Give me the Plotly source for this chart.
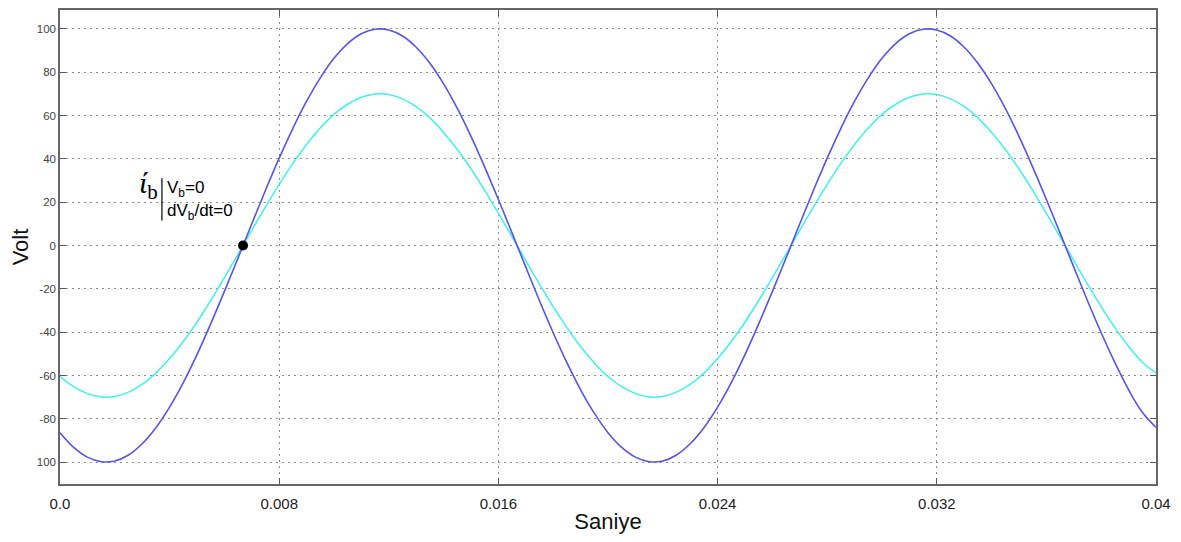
import plotly.graph_objects as go

# time axis (s), read at 0.5 ms steps
t = [i / 2000 for i in range(81)]

# blue trace (voltage, amplitude ~100)
v_blue = [-86.4, -93.2, -97.7, -99.8, -99.5, -96.7, -91.5, -84.1, -74.6, -63.3,
          -50.4, -36.2, -21.2, -5.7, 10.0, 25.5, 40.3, 54.1, 66.6, 77.4,
          86.4, 93.2, 97.7, 99.8, 99.5, 96.7, 91.5, 84.1, 74.6, 63.3,
          50.4, 36.2, 21.2, 5.7, -10.0, -25.5, -40.3, -54.1, -66.6, -77.4,
          -86.4, -93.2, -97.7, -99.8, -99.5, -96.7, -91.5, -84.1, -74.6, -63.3,
          -50.4, -36.2, -21.2, -5.7, 10.0, 25.5, 40.3, 54.1, 66.6, 77.4,
          86.4, 93.2, 97.7, 99.8, 99.5, 96.7, 91.5, 84.1, 74.6, 63.3,
          50.4, 36.2, 21.2, 5.7, -10.0, -25.5, -40.3, -54.1, -66.6, -77.0,
          -84.0]

# cyan trace (current, amplitude ~70)
v_cyan = [-60.5, -65.2, -68.4, -69.9, -69.7, -67.7, -64.1, -58.9, -52.2, -44.3,
          -35.3, -25.4, -14.8, -4.0, 7.0, 17.8, 28.2, 37.9, 46.6, 54.2,
          60.5, 65.2, 68.4, 69.9, 69.7, 67.7, 64.1, 58.9, 52.2, 44.3,
          35.3, 25.4, 14.8, 4.0, -7.0, -17.8, -28.2, -37.9, -46.6, -54.2,
          -60.5, -65.2, -68.4, -69.9, -69.7, -67.7, -64.1, -58.9, -52.2, -44.3,
          -35.3, -25.4, -14.8, -4.0, 7.0, 17.8, 28.2, 37.9, 46.6, 54.2,
          60.5, 65.2, 68.4, 69.9, 69.7, 67.7, 64.1, 58.9, 52.2, 44.3,
          35.3, 25.4, 14.8, 4.0, -7.0, -17.8, -28.2, -37.9, -46.6, -53.9,
          -58.8]

x_ticks = [0.0, 0.008, 0.016, 0.024, 0.032, 0.04]
x_ticktext = ["0.0", "0.008", "0.016", "0.024", "0.032", "0.04"]
y_ticks = [100, 80, 60, 40, 20, 0, -20, -40, -60, -80, -100]
y_ticktext = ["100", "80", "60", "40", "20", "0", "-20", "-40", "-60", "-80", "100"]

# marked point (zero crossing)
pt_x = [0.00668]
pt_y = [0]

fig = go.Figure()
fig.add_trace(go.Scatter(x=t, y=v_cyan, mode="lines",
                         line=dict(color="#3ef0f0", width=1.5, shape="spline"),
                         showlegend=False))
fig.add_trace(go.Scatter(x=t, y=v_blue, mode="lines",
                         line=dict(color="#5555ea", width=1.6, shape="spline"),
                         showlegend=False))
fig.add_trace(go.Scatter(x=pt_x, y=pt_y, mode="markers",
                         marker=dict(color="black", size=10),
                         showlegend=False))

axis_common = dict(
    showline=True, linecolor="#666666", linewidth=1.5, mirror="ticks",
    ticks="inside", ticklen=6, tickcolor="#555555", tickwidth=1,
    showgrid=True, gridcolor="#8c8c8c", griddash="2px,4px", gridwidth=1,
    zeroline=False,
)

fig.update_xaxes(range=[0, 0.04], tickvals=x_ticks, ticktext=x_ticktext,
                 tickfont=dict(family="Liberation Sans, Arial", size=15, color="#222222"),
                 ticklabelstandoff=5,
                 title=dict(text="Saniye", font=dict(family="Liberation Sans, Arial", size=22, color="#111111"),
                            standoff=3),
                 **axis_common)
fig.update_yaxes(range=[-110.1, 108.7], tickvals=y_ticks, ticktext=y_ticktext,
                 tickfont=dict(family="Liberation Sans, Arial", size=11.5, color="#444444"),
                 title=dict(text="Volt", font=dict(family="Liberation Sans, Arial", size=22, color="#111111"),
                            standoff=6),
                 **axis_common)

# bracket bar of the annotation
fig.add_shape(type="line", x0=0.00372, x1=0.00372, y0=31, y1=11.5,
              line=dict(color="black", width=1.2))

fig.add_annotation(x=0.00366, y=28, xref="x", yref="y", xanchor="right", yanchor="middle",
                   text="<i>ί</i><sub>b</sub>", showarrow=False,
                   font=dict(family="Liberation Serif", size=30, color="black"))
fig.add_annotation(x=0.00385, y=26, xref="x", yref="y", xanchor="left", yanchor="middle",
                   text="V<sub>b</sub>=0", showarrow=False,
                   font=dict(family="Liberation Sans, Arial", size=17, color="black"))
fig.add_annotation(x=0.00385, y=15.5, xref="x", yref="y", xanchor="left", yanchor="middle",
                   text="dV<sub>b</sub>/dt=0", showarrow=False,
                   font=dict(family="Liberation Sans, Arial", size=17, color="black"))

fig.update_layout(
    width=1173, height=534,
    margin=dict(l=52, r=25, t=0, b=58),
    paper_bgcolor="white", plot_bgcolor="white",
)

fig.write_html("out.html")
